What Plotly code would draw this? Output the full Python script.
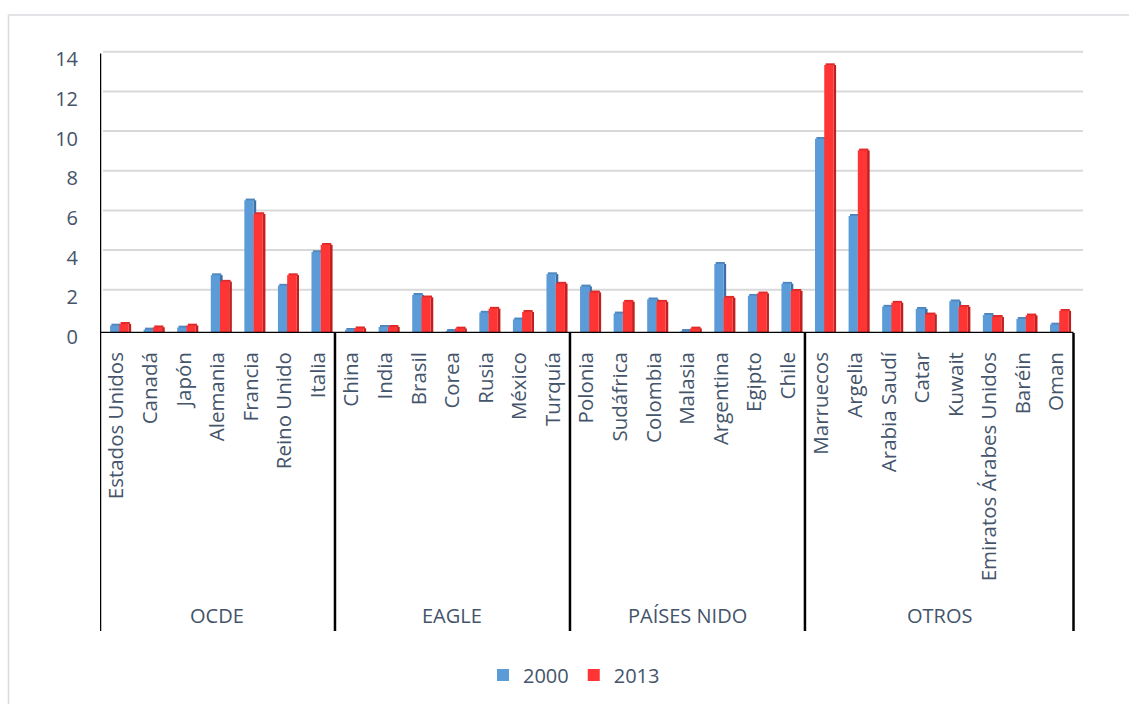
import plotly.graph_objects as go

# Countries, grouped by bloc
paises = [
    "Estados Unidos", "Canadá", "Japón", "Alemania", "Francia", "Reino Unido", "Italia",
    "China", "India", "Brasil", "Corea", "Rusia", "México", "Turquía",
    "Polonia", "Sudáfrica", "Colombia", "Malasia", "Argentina", "Egipto", "Chile",
    "Marruecos", "Argelia", "Arabia Saudí", "Catar", "Kuwait", "Emiratos Árabes Unidos", "Baréin", "Oman",
]
grupos = ["OCDE", "EAGLE", "PAÍSES NIDO", "OTROS"]
tam_grupos = [7, 7, 7, 8]

valores_2000 = [0.38, 0.18, 0.28, 2.92, 6.69, 2.39, 4.08,
                0.16, 0.31, 1.92, 0.11, 1.03, 0.69, 2.97,
                2.35, 0.99, 1.70, 0.11, 3.48, 1.88, 2.49,
                9.79, 5.90, 1.33, 1.22, 1.60, 0.91, 0.71, 0.43]
valores_2013 = [0.46, 0.29, 0.38, 2.59, 6.00, 2.92, 4.45,
                0.24, 0.31, 1.80, 0.23, 1.23, 1.06, 2.49,
                2.05, 1.58, 1.58, 0.23, 1.78, 2.00, 2.12,
                13.51, 9.21, 1.53, 0.94, 1.32, 0.81, 0.89, 1.12]

ticks_y = [0, 2, 4, 6, 8, 10, 12, 14]

# colours
AZUL, AZUL_LADO, AZUL_TAPA = "#5B9BD8", "#3C6FA6", "#4F86BE"
ROJO, ROJO_LADO, ROJO_TAPA = "#FF3434", "#C21F1F", "#E02A2A"
TEXTO = "#44546A"
FUENTE = "Open Sans"

# page geometry (pixels)
W, H = 1129, 704
ML, MR, MT, MB = 100, 46, 46, 370
PW, PH = W - ML - MR, H - MT - MB
PX_UNIDAD = 19.9  # pixels per unit on the value axis


def px_x(px):
    return (px - ML) / PW


def px_y(py):
    return (H - MB - py) / PH


n = len(paises)
cat_px = (1073.5 - ML) / n  # width of one category
x_max = -0.5 + PW / cat_px

ANCHO, LADO = 0.275, 0.078
TAPA = 0.09  # thickness of the bevelled top of each column

fig = go.Figure()


def columna(valores, offset, color, lado, tapa, nombre):
    # side face, front face and top cap of a pseudo-3D column series
    fig.add_bar(x=paises, y=valores, offset=offset + ANCHO, width=LADO,
                marker=dict(color=lado, line=dict(width=0)), showlegend=False, hoverinfo="skip")
    fig.add_bar(x=paises, y=[TAPA] * len(valores), base=valores, offset=offset + 0.04, width=ANCHO,
                marker=dict(color=tapa, line=dict(width=0)), showlegend=False, hoverinfo="skip")
    fig.add_bar(x=paises, y=valores, offset=offset, width=ANCHO, name=nombre,
                marker=dict(color=color, line=dict(width=0)))


columna(valores_2000, -0.2, AZUL, AZUL_LADO, AZUL_TAPA, "2000")
columna(valores_2013, 0.075, ROJO, ROJO_LADO, ROJO_TAPA, "2013")

shapes = []
# outer frame
shapes.append(dict(type="rect", xref="paper", yref="paper",
                   x0=px_x(8.5), x1=px_x(1140), y0=px_y(15), y1=px_y(715),
                   line=dict(color="#D9DCE1", width=1.5), layer="below"))
# gridlines on the back wall
for v in ticks_y[1:]:
    shapes.append(dict(type="line", xref="paper", yref="y",
                       x0=px_x(103), x1=1.0, y0=v + 0.18, y1=v + 0.18,
                       line=dict(color="#D9D9D9", width=2), layer="below"))
# value axis line
shapes.append(dict(type="line", xref="x", yref="y", x0=-0.5, x1=-0.5, y0=0, y1=ticks_y[-1] + 0.1,
                   line=dict(color="black", width=2.5)))
# floor edge
shapes.append(dict(type="line", xref="x", yref="y", x0=-0.5, x1=n - 0.5, y0=0, y1=0,
                   line=dict(color="black", width=2.5)))
# group dividers and group labels
annotations = []
inicio = 0
bordes = [-0.5]
for g, k in zip(grupos, tam_grupos):
    annotations.append(dict(text=g, xref="x", yref="paper", x=inicio + (k - 1) / 2, y=px_y(617),
                            showarrow=False, xanchor="center", yanchor="middle",
                            font=dict(family=FUENTE, size=20, color=TEXTO)))
    inicio += k
    bordes.append(inicio - 0.5)
for b in bordes:
    shapes.append(dict(type="line", xref="x", yref="paper", x0=b, x1=b,
                       y0=0, y1=px_y(633), line=dict(color="black", width=2.5)))

fig.update_layout(
    width=W, height=H, autosize=False,
    margin=dict(l=ML, r=MR, t=MT, b=MB, pad=0),
    paper_bgcolor="white", plot_bgcolor="white",
    barmode="overlay",
    font=dict(family=FUENTE, size=20, color=TEXTO),
    shapes=shapes, annotations=annotations,
    legend=dict(orientation="h", x=px_x(574), xanchor="center", y=px_y(675), yanchor="middle",
                font=dict(family=FUENTE, size=20, color=TEXTO), itemwidth=30, traceorder="normal"),
    xaxis=dict(type="category", categoryorder="array", categoryarray=paises,
               range=[-0.5, x_max], showgrid=False, showline=False, zeroline=False,
               tickangle=-90, ticks="", ticklabelstandoff=14,
               tickfont=dict(family=FUENTE, size=20.5, color=TEXTO)),
    yaxis=dict(range=[0, PH / PX_UNIDAD], tickvals=ticks_y, showgrid=False, zeroline=False,
               showline=False, ticks="", ticklabelstandoff=21, ticklabelshift=4,
               tickfont=dict(family=FUENTE, size=20, color=TEXTO)),
)

fig.write_html("out.html")
